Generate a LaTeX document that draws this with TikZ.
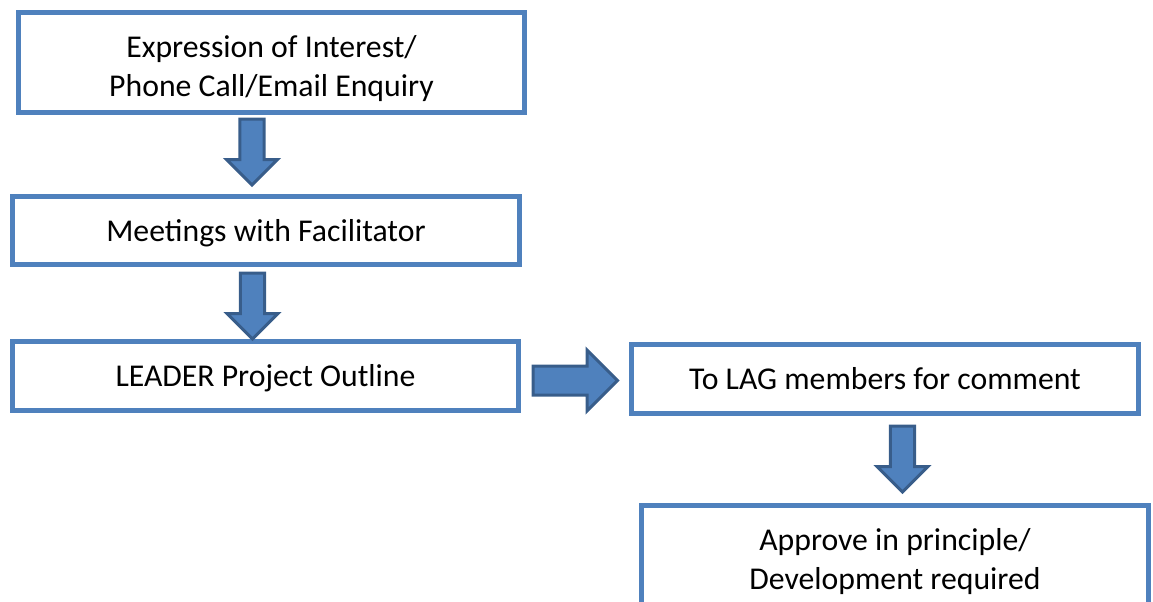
\documentclass[tikz,border=0pt]{standalone}
\usepackage{fontspec}
\setmainfont{Carlito}
\usepackage{tikz}
\usetikzlibrary{shapes.arrows}

\definecolor{boxblue}{HTML}{4F81BD}
\definecolor{arrowedge}{HTML}{385D8A}

\begin{document}
\begin{tikzpicture}[x=0.75pt, y=-0.75pt,
    stage/.style={draw=boxblue, line width=3.75pt, fill=white, align=center,
      font=\fontsize{23.8}{29}\selectfont, minimum width=380pt, inner sep=0pt,
      minimum height=51.5pt,
      execute at begin node={\rule{0pt}{0.952em}},
      execute at end node={\rule[-0.269em]{0pt}{0pt}}},
    % two lines: the strut has to reach above the first line
    tallstage/.style={stage, minimum height=75pt,
      execute at begin node={\rule{0pt}{\dimexpr0.952em+34.5pt}}},
    blockdown/.style={single arrow, shape border rotate=270, draw=arrowedge,
      fill=boxblue, line width=2.25pt, inner sep=7.9pt, anchor=tail,
      minimum height=49.5pt, minimum width=36pt, single arrow head extend=10.1pt},
    blockright/.style={single arrow, draw=arrowedge, fill=boxblue, anchor=tail,
      line width=2.25pt, inner xsep=0pt, inner ysep=9.75pt, minimum height=63.4pt,
      minimum width=43.5pt, single arrow head extend=12pt}]
    \useasboundingbox (0,0) rectangle (1153,601);
    \clip (0,0) rectangle (1153,601);

    % boxes of the process
    \node[tallstage] (expr) at (271.5,62.5) {Expression of Interest/\\Phone Call/Email Enquiry};
    \node[stage, minimum height=51pt] (meet) at (266,230.5) {Meetings with Facilitator};
    \node[stage] (outline) at (265.5,376) {LEADER Project Outline};
    \node[stage] (lag) at (885,379) {To LAG members for comment};
    \node[tallstage] (approve) at (895,555.5) {Approve in principle/\\Development required};

    % block arrows between them
    \node[blockdown] (a1) at (252,117.5) {};
    \node[blockdown] (a2) at (252.5,271.5) {};
    \node[blockright] (a3) at (531.5,380.5) {};
    \node[blockdown] (a4) at (902.5,424.5) {};
\end{tikzpicture}
\end{document}
